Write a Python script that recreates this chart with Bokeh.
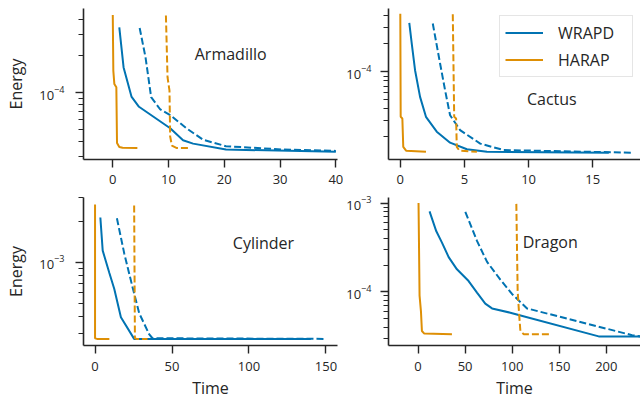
from bokeh.plotting import figure
from bokeh.layouts import gridplot
from bokeh.models import FixedTicker, Range1d, Legend, LegendItem
from bokeh.embed import file_html
from bokeh.resources import INLINE
from bokeh.core.properties import value

BLUE = "#0173b2"
ORANGE = "#de8f05"
INK = "#262626"
FONT = "Open Sans"

# ---------------- data ----------------
panel_names = ["Armadillo", "Cactus", "Cylinder", "Dragon"]
legend_labels = ["WRAPD", "HARAP"]
x_label = "Time"
y_label = "Energy"

# Armadillo
arm_wrapd_x = [1.17, 1.94, 3.35, 4.7, 10.3, 12.6, 14.4, 20.3, 40.0]
arm_wrapd_y = [3.42e-4, 1.61e-4, 9.3e-5, 7.67e-5, 5.12e-5, 4.08e-5, 3.83e-5, 3.43e-5, 3.28e-5]
arm_wrapd_dash_x = [4.82, 5.88, 6.88, 8.52, 10.3, 13.2, 16.2, 20.3, 30.3, 40.0]
arm_wrapd_dash_y = [3.39e-4, 1.94e-4, 9.2e-5, 7.29e-5, 6.56e-5, 5.12e-5, 4.12e-5, 3.65e-5, 3.43e-5, 3.34e-5]
arm_harap_x = [0.0, 0.1, 0.28, 0.64, 0.76, 1.17, 1.76, 4.41]
arm_harap_y = [4.33e-4, 1.51e-4, 1.18e-4, 1.11e-4, 3.88e-5, 3.6e-5, 3.54e-5, 3.52e-5]
arm_harap_dash_x = [9.53, 9.82, 10.17, 10.29, 10.6, 11.5, 13.5]
arm_harap_dash_y = [4.28e-4, 1.34e-4, 1.04e-4, 4.39e-5, 3.69e-5, 3.52e-5, 3.52e-5]

# Cactus
cac_wrapd_x = [0.70, 0.89, 1.15, 1.54, 2.0, 2.84, 3.88, 5.19, 6.75, 16.25]
cac_wrapd_y = [3.36e-4, 2.02e-4, 1.04e-4, 5.38e-5, 3.28e-5, 2.27e-5, 1.73e-5, 1.47e-5, 1.38e-5, 1.35e-5]
cac_wrapd_dash_x = [2.53, 3.1, 3.49, 3.88, 4.66, 6.23, 8.05, 18.08]
cac_wrapd_dash_y = [3.31e-4, 1.23e-4, 6.34e-5, 3.41e-5, 2.36e-5, 1.69e-5, 1.44e-5, 1.35e-5]
cac_harap_x = [0.0, 0.03, 0.16, 0.23, 0.45, 2.0]
cac_harap_y = [4.22e-4, 3.28e-5, 3.15e-5, 1.56e-5, 1.42e-5, 1.38e-5]
cac_harap_dash_x = [4.09, 4.2, 4.35, 4.4, 4.61, 5.97]
cac_harap_dash_y = [4.16e-4, 3.28e-5, 3.15e-5, 1.56e-5, 1.42e-5, 1.38e-5]

# Cylinder
cyl_wrapd_x = [3.45, 4.98, 9.3, 12.5, 16.8, 25.4, 140.2]
cyl_wrapd_y = [2.14e-3, 1.22e-3, 8.35e-4, 6.37e-4, 3.95e-4, 2.74e-4, 2.74e-4]
cyl_wrapd_dash_x = [14.2, 19.0, 24.4, 28.7, 35.1, 37.3, 148.4]
cyl_wrapd_dash_y = [2.11e-3, 1.16e-3, 6.54e-4, 4.23e-4, 2.97e-4, 2.77e-4, 2.74e-4]
cyl_harap_x = [0.0, 0.0, 1.3, 9.3]
cyl_harap_y = [2.66e-3, 2.77e-4, 2.74e-4, 2.74e-4]
cyl_harap_dash_x = [25.4, 25.9, 27.0, 34.1]
cyl_harap_dash_y = [2.62e-3, 2.77e-4, 2.74e-4, 2.74e-4]

# Dragon
dra_wrapd_x = [12.2, 19.4, 25.4, 32.5, 41.3, 53.7, 62.6, 71.4, 78.6, 98.0, 106.9, 191.9, 236.3]
dra_wrapd_y = [8.04e-4, 4.8e-4, 3.58e-4, 2.46e-4, 1.79e-4, 1.32e-4, 9.8e-5, 7.35e-5, 6.49e-5,
               5.81e-5, 5.48e-5, 3.14e-5, 3.14e-5]
dra_wrapd_dash_x = [50.2, 62.6, 73.3, 87.4, 99.8, 115.8, 227.4, 236.0]
dra_wrapd_dash_y = [7.94e-4, 3.74e-4, 2.17e-4, 1.37e-4, 9.44e-5, 6.49e-5, 3.24e-5, 3.14e-5]
dra_harap_x = [0.5, 1.6, 3.1, 4.1, 6.6, 36.0]
dra_harap_y = [1.0e-3, 9.05e-5, 5.96e-5, 3.61e-5, 3.38e-5, 3.33e-5]
dra_harap_dash_x = [104.4, 105.8, 107.3, 108.7, 112.2, 140.6]
dra_harap_dash_y = [9.78e-4, 1.03e-4, 5.71e-5, 3.61e-5, 3.33e-5, 3.33e-5]

# axis ticks
arm_xticks = [0, 10, 20, 30, 40]
cac_xticks = [0, 5, 10, 15]
cyl_xticks = [0, 50, 100, 150]
dra_xticks = [0, 50, 100, 150, 200]
arm_yticks = [1e-4]
cac_yticks = [1e-4]
cyl_yticks = [1e-3]
dra_yticks = [1e-4, 1e-3]

# ---------------- layout ----------------
W1, W2 = 343, 297
H1, H2 = 192, 212


def minor_log_ticks(lo, hi):
    out = []
    for e in range(-7, 0):
        for m in range(2, 10):
            v = m * 10.0 ** e
            if lo <= v <= hi:
                out.append(v)
    return out


def make_panel(xr, yr, xticks, yticks, w, h, mbl, mbr, mbt, mbb, ylab, xlab, ystandoff, xstandoff):
    p = figure(width=w, height=h, x_range=Range1d(*xr), y_range=Range1d(*yr),
               y_axis_type="log", output_backend="svg", toolbar_location=None,
               min_border_left=mbl, min_border_right=mbr, min_border_top=mbt,
               min_border_bottom=mbb)
    p.outline_line_color = None
    p.xgrid.visible = False
    p.ygrid.visible = False
    p.background_fill_color = "white"
    p.border_fill_color = "white"
    p.xaxis.ticker = FixedTicker(ticks=xticks)
    p.yaxis.ticker = FixedTicker(ticks=yticks, minor_ticks=minor_log_ticks(*yr))
    for ax in (p.xaxis[0], p.yaxis[0]):
        ax.axis_line_color = INK
        ax.axis_line_width = 1.6
        ax.major_tick_line_color = INK
        ax.major_tick_line_width = 1.4
        ax.minor_tick_line_color = INK
        ax.minor_tick_line_width = 1.1
        ax.major_tick_in = 0
        ax.minor_tick_in = 0
        ax.major_tick_out = 8
        ax.minor_tick_out = 5
        ax.major_label_text_font = FONT
        ax.major_label_text_font_size = "13px"
        ax.major_label_text_color = INK
        ax.axis_label_text_font = FONT
        ax.axis_label_text_font_size = "16px"
        ax.axis_label_text_font_style = "normal"
        ax.axis_label_text_color = INK
    p.xaxis.minor_tick_line_color = None
    p.xaxis.major_label_standoff = xstandoff
    p.yaxis.major_label_standoff = ystandoff
    if ylab:
        p.yaxis.axis_label = ylab
        p.yaxis.axis_label_standoff = 9
    if xlab:
        p.xaxis.axis_label = xlab
        p.xaxis.axis_label_standoff = 3
    return p


def add_series(p, sx, sy, color, dash):
    return p.line(sx, sy, line_color=color, line_width=2,
                  line_dash="7 3" if dash else "solid")


def add_name(p, x, y, name):
    p.text(x=[x], y=[y], text=[name], text_font=value(FONT), text_font_size="16px",
           text_color=INK, text_align="left", text_baseline="alphabetic")


# Armadillo
p1 = make_panel((-5.25, 40.3), (2.84e-5, 4.89e-4), arm_xticks, arm_yticks,
                W1, H1, 83, 6, 8, 33, y_label, None, 11, 7)
add_series(p1, arm_wrapd_x, arm_wrapd_y, BLUE, False)
add_series(p1, arm_wrapd_dash_x, arm_wrapd_dash_y, BLUE, True)
add_series(p1, arm_harap_x, arm_harap_y, ORANGE, False)
add_series(p1, arm_harap_dash_x, arm_harap_dash_y, ORANGE, True)
add_name(p1, 14.7, 2.07e-4, panel_names[0])

# Cactus
p2 = make_panel((-0.92, 18.72), (1.14e-5, 4.8e-4), cac_xticks, cac_yticks,
                W2, H1, 40, 0, 8, 33, None, None, 9, 7)
rb = add_series(p2, cac_wrapd_x, cac_wrapd_y, BLUE, False)
add_series(p2, cac_wrapd_dash_x, cac_wrapd_dash_y, BLUE, True)
ro = add_series(p2, cac_harap_x, cac_harap_y, ORANGE, False)
add_series(p2, cac_harap_dash_x, cac_harap_dash_y, ORANGE, True)
add_name(p2, 9.87, 5.07e-5, panel_names[1])
legend = Legend(items=[LegendItem(label=legend_labels[0], renderers=[rb]),
                       LegendItem(label=legend_labels[1], renderers=[ro])],
                location="top_right", margin=7, padding=5, spacing=4,
                label_height=23, glyph_height=23, glyph_width=38, label_standoff=15,
                label_width=69, label_text_font=FONT, label_text_font_size="16px",
                label_text_color=INK, border_line_color="#cccccc", border_line_width=1,
                background_fill_color="white", background_fill_alpha=0.8)
p2.add_layout(legend)

# Cylinder
p3 = make_panel((-7.5, 157.5), (2.45e-4, 3.0e-3), cyl_xticks, cyl_yticks,
                W1, H2, 83, 6, 5, 59, y_label, x_label, 11, 8)
add_series(p3, cyl_wrapd_x, cyl_wrapd_y, BLUE, False)
add_series(p3, cyl_wrapd_dash_x, cyl_wrapd_dash_y, BLUE, True)
add_series(p3, cyl_harap_x, cyl_harap_y, ORANGE, False)
add_series(p3, cyl_harap_dash_x, cyl_harap_dash_y, ORANGE, True)
add_name(p3, 89.5, 1.39e-3, panel_names[2])

# Dragon
p4 = make_panel((-31.4, 236.3), (2.48e-5, 1.154e-3), dra_xticks, dra_yticks,
                W2, H2, 40, 0, 5, 59, None, x_label, 9, 8)
add_series(p4, dra_wrapd_x, dra_wrapd_y, BLUE, False)
add_series(p4, dra_wrapd_dash_x, dra_wrapd_dash_y, BLUE, True)
add_series(p4, dra_harap_x, dra_harap_y, ORANGE, False)
add_series(p4, dra_harap_dash_x, dra_harap_dash_y, ORANGE, True)
add_name(p4, 111.1, 3.65e-4, panel_names[3])

grid = gridplot([[p1, p2], [p3, p4]], toolbar_location=None)

open("out.html", "w").write(file_html(grid, INLINE))
